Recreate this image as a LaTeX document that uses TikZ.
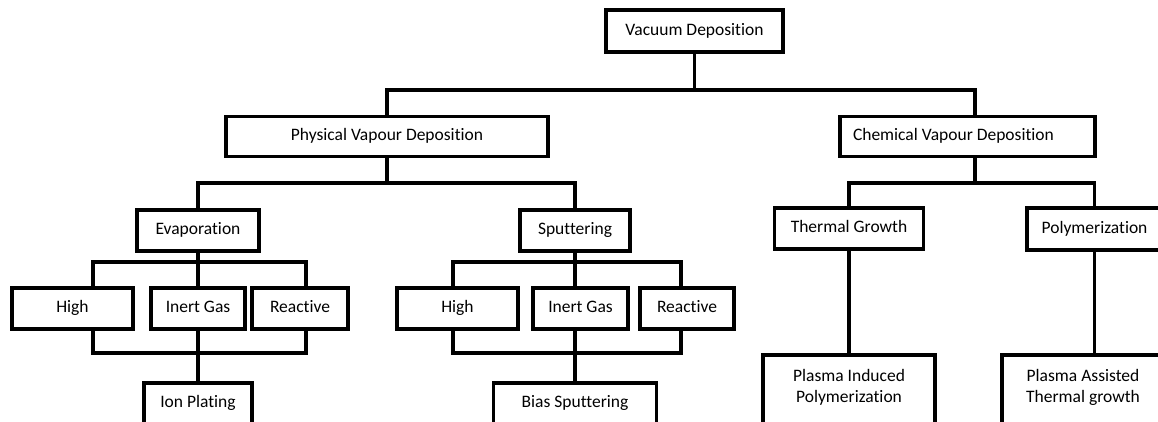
\documentclass[tikz,border=0pt]{standalone}
\usepackage{fontspec}
\setmainfont{Carlito}[Ligatures=NoCommon]
\begin{document}
\begin{tikzpicture}[x=1pt, y=-1pt, line width=3.8pt,
  box/.style={draw, fill=white, inner sep=0pt, font=\fontsize{17.5}{21}\selectfont,
    text height=12.5pt, text depth=4pt, minimum height=41pt},
  lowbox/.style={box, anchor=north, minimum height=44pt, text depth=7pt},
  twobox/.style={box, anchor=north, align=center, minimum height=74pt, text height=30pt, text depth=8.6pt}]
\clip (0,0) rectangle (1158,421);
%top
\node[box, minimum width=177pt, minimum height=42pt] (vd) at (694.5,31) {Vacuum Deposition};
\node[box, minimum width=322pt, minimum height=40pt] (pvd) at (387,136.5) {Physical Vapour Deposition};
\node[box, minimum height=40pt, text width=229pt, align=flush left, inner xsep=13pt] (cvd) at (967.5,136.5) {Chemical Vapour Deposition};
\coordinate (vdbar) at (694.5,90);
\draw (vd.south) -- (vdbar);
\draw (pvd.north) |- (vdbar) -| ([xshift=7.5pt]cvd.north);
%pvd
\node[box, minimum width=122pt] (evap) at (198,230.5) {Evaporation};
\node[box, minimum width=110pt] (sput) at (575,230.5) {Sputtering};
\coordinate (pvdbar) at (387,183);
\draw (pvd.south) -- (pvdbar);
\draw (evap.north) |- (pvdbar) -| (sput.north);
%cvd
\node[box, minimum width=149pt] (tg) at (849,228.5) {Thermal Growth};
\node[box, minimum width=135pt, minimum height=42pt] (poly) at (1094.5,229) {Polymerization};
\node[twobox, minimum width=172pt] (pi) at (849,353) {Plasma Induced\\Polymerization};
\node[twobox, minimum width=162pt] (pa) at (1083,353) {Plasma Assisted\\Thermal growth};
\coordinate (cvdbar) at (975,183);
\draw ([xshift=7.5pt]cvd.south) -- (cvdbar);
\draw (tg.north) |- (cvdbar) -| (poly.north);
\draw (tg.south) -- (pi.north);
\draw (poly.south) -- (poly.south |- pa.north);
%evaporation
\node[box, minimum width=121pt] (eh) at (72.5,308.5) {High};
\node[box, minimum width=94pt] (ei) at (198,308.5) {Inert Gas};
\node[box, minimum width=96pt] (er) at (300,308.5) {Reactive};
\node[lowbox, minimum width=108pt] (ion) at (198,381) {Ion Plating};
\coordinate (eup) at (93,262);
\coordinate (eup2) at (306,262);
\coordinate (elo) at (93,353);
\coordinate (elo2) at (306,353);
\draw (evap.south) -- (ei.north);
\draw (eh.north -| eup) -- (eup) -- (eup2) -- (er.north -| eup2);
\draw (eh.south -| elo) -- (elo) -- (elo2) -- (er.south -| elo2);
\draw (ei.south) -- (ion.north);
%sputtering
\node[box, minimum width=121pt] (sh) at (457.5,308.5) {High};
\node[box, minimum width=95pt] (si) at (580.5,308.5) {Inert Gas};
\node[box, minimum width=94pt] (sr) at (687,308.5) {Reactive};
\node[lowbox, minimum width=163pt] (bias) at (575,381) {Bias Sputtering};
\coordinate (sup) at (453,262);
\coordinate (sup2) at (681,262);
\coordinate (slo) at (453,353);
\coordinate (slo2) at (681,353);
\draw (sput.south) -- (sput.south |- si.north);
\draw (sh.north -| sup) -- (sup) -- (sup2) -- (sr.north -| sup2);
\draw (sh.south -| slo) -- (slo) -- (slo2) -- (sr.south -| slo2);
\draw (bias.north |- si.south) -- (bias.north);
\end{tikzpicture}
\end{document}
